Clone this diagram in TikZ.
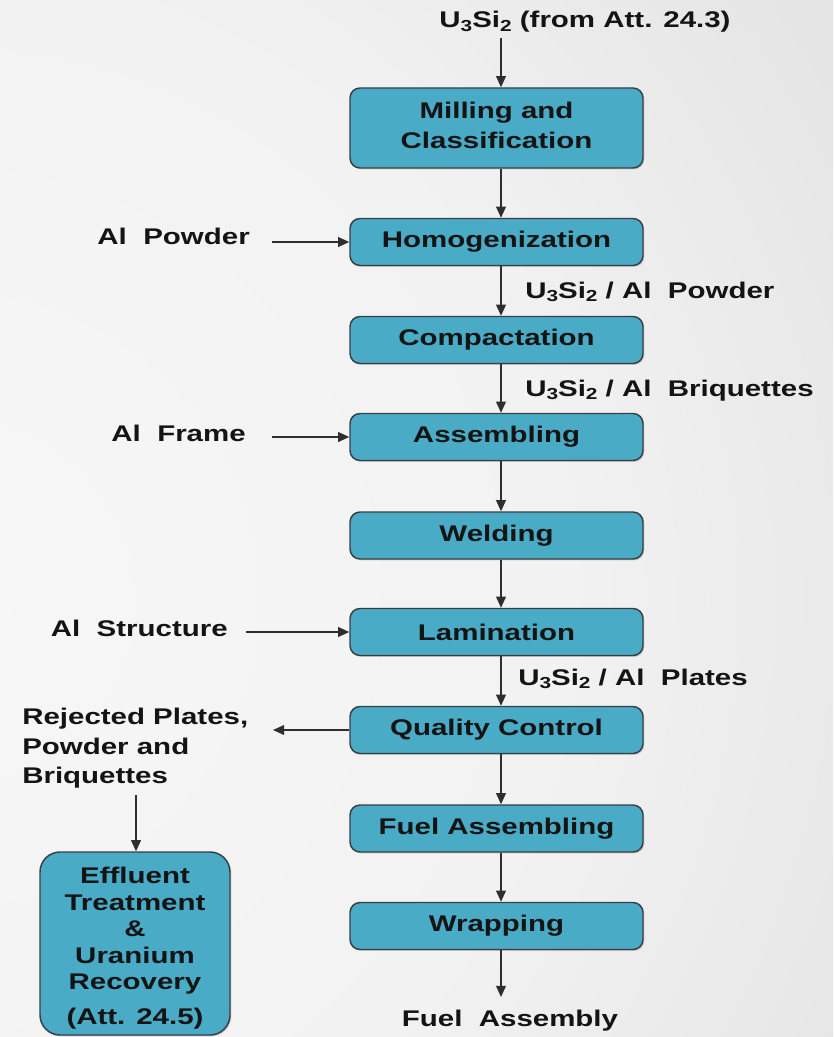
\documentclass[tikz,border=0pt]{standalone}
\usepackage{fontspec}
\newfontfamily\labfont[FakeStretch=1.3]{Liberation Sans Bold}
\usetikzlibrary{arrows.meta,shadows}

\definecolor{boxfill}{HTML}{4AABC6}
\definecolor{boxline}{HTML}{3A3F44}
\definecolor{arrowline}{HTML}{2E2E2E}
\definecolor{ink}{HTML}{141414}
\definecolor{bgA}{HTML}{F7F7F7}
\definecolor{bgB}{HTML}{F2F2F2}
\definecolor{bgC}{HTML}{E0E0E0}
\definecolor{bgD}{HTML}{C4C4C4}
\definecolor{bgE}{HTML}{B6B6B6}

% soft backdrop, light on the left and grey towards the right
\pgfdeclareradialshading{backdrop}{\pgfpoint{0bp}{0bp}}{%
  color(0bp)=(bgA); color(14bp)=(bgB); color(27bp)=(bgC);
  color(40bp)=(bgD); color(50bp)=(bgE)}

% lowered small digits for chemical formulas
\newcommand{\lowsub}[1]{\raisebox{-0.3ex}{\fontsize{12}{12}\selectfont #1}}
\newcommand{\usi}{U\lowsub{3}Si\lowsub{2}}

\tikzset{
  box/.style={draw=boxline, line width=1.1pt, fill=boxfill,
    rounded corners=7.5pt, minimum width=219.75pt, minimum height=35.25pt,
    inner sep=0pt, align=center, text=ink,
    drop shadow={shadow xshift=1pt, shadow yshift=-1pt, opacity=0.35}},
  lbl/.style={inner sep=0pt, text=ink},
  arr/.style={draw=arrowline, line width=1pt,
    -{Triangle[length=8.3pt,width=7.3pt]}}
}

\begin{document}
\begin{tikzpicture}[x=0.75pt, y=-0.75pt,
  font=\labfont\fontsize{17}{22.5}\selectfont]

% background
\begin{scope}
  \clip (0,0) rectangle (833,1037);
  \shade[shading=backdrop] (-50,600) circle [radius=1100];
\end{scope}
\useasboundingbox (0,0) rectangle (833,1037);

% main process chain
\node[box, minimum height=60pt] (mill) at (496.5,128)
  {\raisebox{2.2pt}{\begin{tabular}{@{}c@{}}Milling and\\Classification\end{tabular}}};
\node[box] (homo) at (496.5,242)   {Homogenization};
\node[box] (comp) at (496.5,340)   {Compactation};
\node[box] (assm) at (496.5,437)   {Assembling};
\node[box] (weld) at (496.5,535.5) {Welding};
\node[box] (lami) at (496.5,632)   {Lamination};
\node[box] (qc)   at (496.5,730)   {Quality Control};
\node[box] (fuel) at (496.5,828.5) {Fuel Assembling};
\node[box] (wrap) at (496.5,926)   {Wrapping};

% recovery box and its caption
\node[box, minimum width=142.5pt, minimum height=137.25pt, rounded corners=15pt]
  (eff) at (135,943.5) {};
\node[lbl, align=center, font=\labfont\fontsize{17}{19.9}\selectfont]
  (efftext) at ([yshift=-3.75pt]eff.center)
  {Effluent\\Treatment\\\&\\Uranium\\Recovery\\[6.4pt](Att. 24.5)};

% stream labels
\node[lbl, anchor=base] (feedlbl) at (585,28) {\usi{} (from Att. 24.3)};
\node[lbl, anchor=base west] (s1) at (525,298) {\usi{} / Al~ Powder};
\node[lbl, anchor=base west] (s2) at (525,396) {\usi{} / Al~ Briquettes};
\node[lbl, anchor=base west] (s3) at (518,685) {\usi{} / Al~ Plates};
\node[lbl, anchor=base] (prod) at (510,1026) {Fuel~ Assembly};

\node[lbl, anchor=base east] (alpow) at (250,245) {Al~ Powder};
\node[lbl, anchor=base east] (alfrm) at (246,441) {Al~ Frame};
\node[lbl, anchor=base east] (alstr) at (228,636) {Al~ Structure};
\node[lbl, anchor=north west, align=left,
      font=\labfont\fontsize{17}{22}\selectfont] (rej) at (22,708)
  {Rejected Plates,\\Powder and\\Briquettes};

% connector ends
\coordinate (spine) at (501,0);
\coordinate (feed) at (501,38);
\coordinate (outtip) at (501,997);
\coordinate (inA) at (272,242);
\coordinate (inB) at (272,437);
\coordinate (inC) at (246,632);
\coordinate (rejtip) at (273,730);
\coordinate (rejtail) at (136,795);

% vertical flow
\draw[arr] (feed) -- (feed |- mill.north);
\draw[arr] (mill.south -| spine) -- (homo.north -| spine);
\draw[arr] (homo.south -| spine) -- (comp.north -| spine);
\draw[arr] (comp.south -| spine) -- (assm.north -| spine);
\draw[arr] (assm.south -| spine) -- (weld.north -| spine);
\draw[arr] (weld.south -| spine) -- (lami.north -| spine);
\draw[arr] (lami.south -| spine) -- (qc.north -| spine);
\draw[arr] (qc.south -| spine)   -- (fuel.north -| spine);
\draw[arr] (fuel.south -| spine) -- (wrap.north -| spine);
\draw[arr] (wrap.south -| spine) -- (outtip);

% side inputs and rejects
\draw[arr] (inA) -- (homo.west);
\draw[arr] (inB) -- (assm.west);
\draw[arr] (inC) -- (lami.west);
\draw[arr] (qc.west) -- (rejtip);
\draw[arr] (rejtail) -- (rejtail |- eff.north);

\end{tikzpicture}
\end{document}
